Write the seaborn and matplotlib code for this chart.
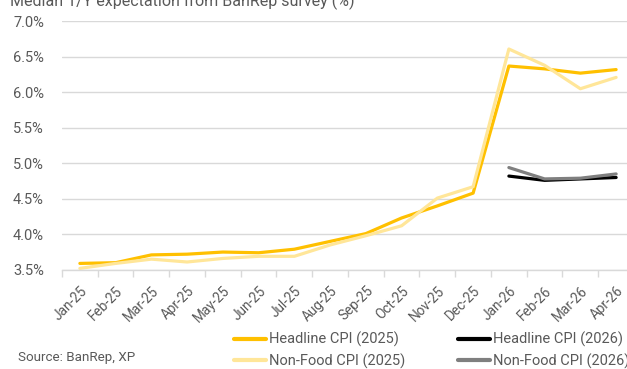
import numpy as np
import pandas as pd
import matplotlib
matplotlib.use("Agg")
import matplotlib.pyplot as plt
import seaborn as sns

months = ["Jan-25", "Feb-25", "Mar-25", "Apr-25", "May-25", "Jun-25", "Jul-25", "Aug-25",
          "Sep-25", "Oct-25", "Nov-25", "Dec-25", "Jan-26", "Feb-26", "Mar-26", "Apr-26"]

headline_2025 = [3.59, 3.60, 3.71, 3.72, 3.75, 3.74, 3.79, 3.90,
                 4.01, 4.23, 4.40, 4.58, 6.37, 6.33, 6.27, 6.32]
nonfood_2025 = [3.52, 3.59, 3.65, 3.61, 3.66, 3.69, 3.69, 3.85,
                3.98, 4.12, 4.51, 4.67, 6.61, 6.38, 6.05, 6.21]
headline_2026 = [np.nan] * 12 + [4.82, 4.76, 4.78, 4.80]
nonfood_2026 = [np.nan] * 12 + [4.94, 4.78, 4.79, 4.85]

series_names = ["Headline CPI (2025)", "Non-Food CPI (2025)",
                "Headline CPI (2026)", "Non-Food CPI (2026)"]
series_values = [headline_2025, nonfood_2025, headline_2026, nonfood_2026]
series_colors = ["#FFC000", "#FFE699", "#000000", "#7F7F7F"]

y_ticks = [3.5, 4.0, 4.5, 5.0, 5.5, 6.0, 6.5, 7.0]

df = pd.concat(
    [pd.DataFrame({"month": months, "value": vals, "series": name})
     for name, vals in zip(series_names, series_values)],
    ignore_index=True,
)
df["pos"] = df["month"].map({m: i for i, m in enumerate(months)})

sns.set_theme(style="white")
plt.rcParams["font.family"] = ["Roboto", "DejaVu Sans"]
text_color = "#595959"

fig = plt.figure(figsize=(6.27, 3.69), dpi=100)
ax = fig.add_axes([62 / 627, 1 - 269.8 / 369, 572 / 627, (269.8 - 21.3) / 369])

sns.lineplot(data=df, x="pos", y="value", hue="series", hue_order=series_names,
             palette=dict(zip(series_names, series_colors)), linewidth=2.3,
             ax=ax, legend=False, sort=False)

ax.set_xlim(-0.5, len(months) - 0.5)
ax.set_ylim(3.5, 7.0)
ax.set_yticks(y_ticks)
ax.set_yticklabels([f"{v:.1f}%" for v in y_ticks], fontsize=10.5, color=text_color)
ax.yaxis.grid(True, color="#D9D9D9", linewidth=1.0)
ax.set_axisbelow(True)
ax.tick_params(axis="y", length=0, pad=13)

ax.set_xticks(range(len(months)))
ax.set_xticklabels(months, rotation=45, ha="right", rotation_mode="anchor",
                   fontsize=9.8, color=text_color)
ax.set_xticks(np.arange(-0.5, len(months), 1.0), minor=True)
ax.tick_params(axis="x", which="major", length=0, pad=10)
ax.tick_params(axis="x", which="minor", length=5, width=1.0, color="#D9D9D9",
               direction="out", bottom=True)
ax.set_xlabel("")
ax.set_ylabel("")
for side in ["top", "right", "left"]:
    ax.spines[side].set_visible(False)
ax.spines["bottom"].set_color("#D9D9D9")
ax.spines["bottom"].set_linewidth(1.0)

handles = [plt.Line2D([], [], color=c, linewidth=3) for c in series_colors]
fig.legend(handles, series_names, loc="upper left", bbox_to_anchor=(234 / 627, 1 - 332 / 369),
           ncol=2, frameon=False, fontsize=10.5, handlelength=2.2, handletextpad=0.2,
           columnspacing=3.6, labelspacing=0.42, borderaxespad=0, borderpad=0,
           labelcolor=text_color)

fig.text(18 / 627, 1 - 358 / 369, "Source: BanRep, XP", fontsize=9.6, color=text_color,
         va="center", ha="left")
fig.text(10 / 627, 1 - 6 / 369, "Median 1/Y expectation from BanRep survey (%)",
         fontsize=11.5, color=text_color, va="baseline", ha="left")

fig.savefig("out.png", dpi=100)
